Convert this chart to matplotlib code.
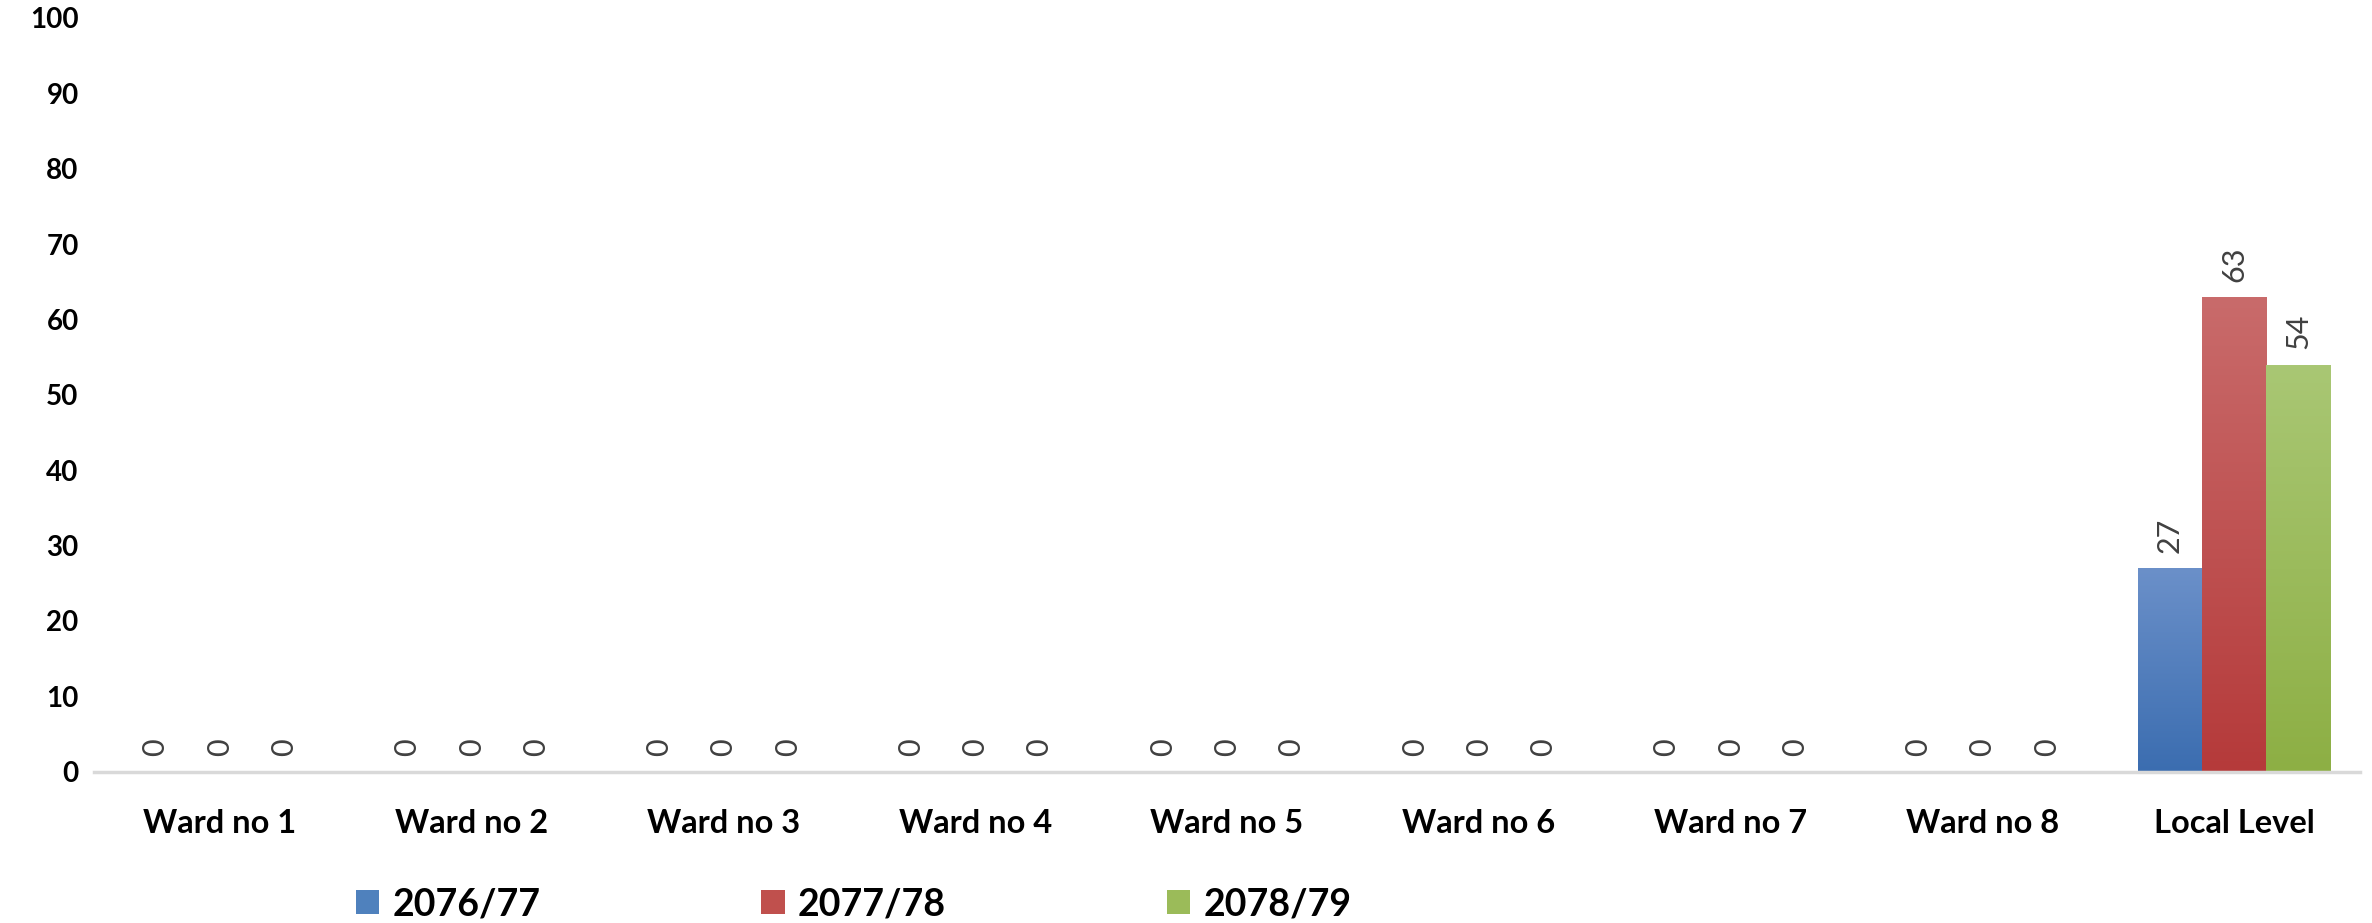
import matplotlib
matplotlib.use("Agg")
import matplotlib.pyplot as plt
import numpy as np
from matplotlib.colors import LinearSegmentedColormap

categories = ["Ward no 1", "Ward no 2", "Ward no 3", "Ward no 4", "Ward no 5",
              "Ward no 6", "Ward no 7", "Ward no 8", "Local Level"]
series_names = ["2076/77", "2077/78", "2078/79"]
values_2076 = [0, 0, 0, 0, 0, 0, 0, 0, 27]
values_2077 = [0, 0, 0, 0, 0, 0, 0, 0, 63]
values_2078 = [0, 0, 0, 0, 0, 0, 0, 0, 54]
y_ticks = [0, 10, 20, 30, 40, 50, 60, 70, 80, 90, 100]

series = [values_2076, values_2077, values_2078]
# (top colour, bottom colour) for a gradient fill
grad_colors = [("#6b90c9", "#3b6db0"), ("#c96b6b", "#b53a3a"), ("#a9c774", "#8daf44")]
solid_colors = ["#4f81bd", "#c0504d", "#9bbb59"]

fig = plt.figure(figsize=(23.72, 9.23), dpi=100)
ax = fig.add_axes([0.0396, 0.1641, 0.9554, 0.8164])

x = np.arange(len(categories))
bw = 0.255
for i, (vals, name) in enumerate(zip(series, series_names)):
    pos = x + (i - 1) * bw
    bars = ax.bar(pos, vals, width=bw, color=solid_colors[i], label=name,
                  linewidth=0, zorder=2)
    cmap = LinearSegmentedColormap.from_list("g%d" % i, [grad_colors[i][1], grad_colors[i][0]])
    for b in bars:
        h = b.get_height()
        if h > 0:
            grad = np.linspace(0, 1, 256).reshape(-1, 1)
            im = ax.imshow(grad, cmap=cmap, origin="lower", aspect="auto",
                           extent=(b.get_x(), b.get_x() + b.get_width(), 0, h), zorder=3)
            im.set_clip_path(b)
        ax.annotate(f"{h:g}", (b.get_x() + b.get_width() / 2, h),
                    xytext=(0, 11), textcoords="offset points",
                    ha="center", va="bottom", rotation=90,
                    fontsize=22, color="#404040", family="Lato")

ax.set_xlim(-0.5, len(categories) - 0.5)
ax.set_ylim(0, 100)
ax.set_yticks(y_ticks)
ax.set_yticklabels([str(t) for t in y_ticks], fontsize=20, fontweight="bold",
                   family="Lato")
ax.set_xticks(x)
ax.set_xticklabels(categories, fontsize=23.5, fontweight="bold", family="Lato")
ax.tick_params(axis="y", length=0, pad=11)
ax.tick_params(axis="x", length=0, pad=27)
for s in ["top", "right", "left"]:
    ax.spines[s].set_visible(False)
ax.spines["bottom"].set_color("#d9d9d9")
ax.spines["bottom"].set_linewidth(2.5)
ax.spines["bottom"].set_zorder(4)

handles, labels = ax.get_legend_handles_labels()
leg = fig.legend(handles, labels, loc="center left", bbox_to_anchor=(0.150, 0.020),
                 ncol=3, frameon=False, prop={"family": "Lato", "weight": "bold", "size": 27},
                 handlelength=0.62, handleheight=0.62, handletextpad=0.35,
                 columnspacing=5.9, borderpad=0, borderaxespad=0)

fig.savefig("out.png", dpi=100)
